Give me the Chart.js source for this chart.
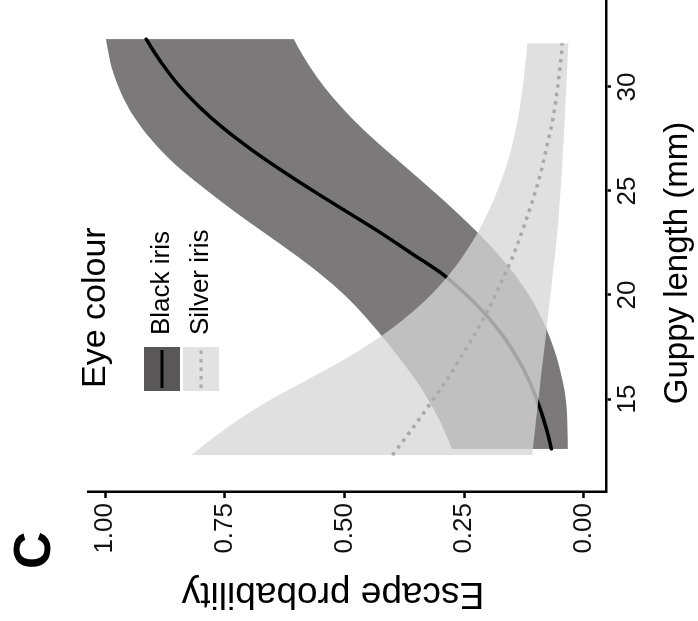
<!DOCTYPE html>
<html>
<head>
<meta charset="utf-8">
<script src="https://cdn.jsdelivr.net/npm/chart.js@4.4.1/dist/chart.umd.min.js"></script>
<style>
	html, body { margin: 0; padding: 0; background: #fff; overflow: hidden; }
	/* the figure is drawn upright, then turned a quarter turn anticlockwise */
	#wrap {
		position: absolute; left: 0; top: 0;
		width: 621px; height: 698px;
		transform-origin: 0 0;
		transform: translate(0, 621px) rotate(-90deg);
	}
</style>
</head>
<body>
<div id="wrap"><canvas id="chart" width="621" height="698"></canvas></div>
<script>
// Guppy length (mm) and model fits per eye colour
const blackLength = [12.6, 13, 14, 15, 16, 17, 18, 19, 20, 21, 22, 23, 24, 25, 26, 27, 28, 29, 30, 31, 32, 32.3];
const blackFit = [0.068, 0.072, 0.084, 0.099, 0.117, 0.140, 0.168, 0.203, 0.245, 0.295, 0.360, 0.425, 0.495, 0.565, 0.632, 0.695, 0.752, 0.801, 0.843, 0.877, 0.906, 0.914];
const blackUpper = [0.276, 0.283, 0.302, 0.326, 0.354, 0.386, 0.421, 0.458, 0.500, 0.550, 0.607, 0.668, 0.729, 0.786, 0.840, 0.885, 0.922, 0.951, 0.972, 0.987, 0.996, 0.998];
const blackLower = [0.034, 0.034, 0.035, 0.038, 0.046, 0.057, 0.072, 0.091, 0.115, 0.145, 0.181, 0.222, 0.267, 0.315, 0.365, 0.415, 0.463, 0.505, 0.542, 0.573, 0.599, 0.606];

const silverLength = [12.3, 13, 14, 15, 16, 17, 18, 19, 20, 21, 22, 23, 24, 25, 26, 27, 28, 29, 30, 31, 32, 32.1];
const silverFit = [0.400, 0.377, 0.345, 0.314, 0.284, 0.257, 0.231, 0.207, 0.185, 0.165, 0.146, 0.130, 0.115, 0.101, 0.089, 0.079, 0.069, 0.061, 0.055, 0.050, 0.046, 0.046];
const silverUpper = [0.820, 0.782, 0.722, 0.652, 0.572, 0.493, 0.425, 0.368, 0.320, 0.281, 0.249, 0.222, 0.200, 0.181, 0.165, 0.152, 0.142, 0.134, 0.128, 0.123, 0.119, 0.119];
const silverLower = [0.108, 0.105, 0.100, 0.095, 0.090, 0.085, 0.080, 0.075, 0.070, 0.065, 0.060, 0.056, 0.052, 0.049, 0.046, 0.044, 0.041, 0.039, 0.037, 0.035, 0.033, 0.033];

const lengthTicks = [15, 20, 25, 30];
const probTicks = [0, 0.25, 0.5, 0.75, 1];
const seriesNames = ["Black iris", "Silver iris"];
const xTitle = "Guppy length (mm)";
const yTitle = "Escape probability";

const FONT = '"Liberation Sans", Arial, Helvetica, sans-serif';
Chart.defaults.font.family = FONT;
Chart.defaults.color = "#000";

function toPoints(xs, ys) {
	return xs.map((x, i) => ({ x: x, y: ys[i] }));
}

function band(xs, ys, fillColor, order, fill) {
	return {
		data: toPoints(xs, ys),
		fill: fill,
		backgroundColor: fillColor,
		borderWidth: 0,
		pointRadius: 0,
		cubicInterpolationMode: "monotone",
		order: order,
	};
}

// axis titles, legend and panel letter, drawn in the upright frame
const decor = {
	id: "decor",
	afterDraw(chart) {
		const ctx = chart.ctx;
		ctx.save();
		ctx.fillStyle = "#000";
		ctx.textBaseline = "alphabetic";

		ctx.font = "bold 52px " + FONT;
		ctx.fillText("C", 52, 50);

		// axis titles
		ctx.textAlign = "center";
		ctx.font = "33px " + FONT;
		ctx.fillText(xTitle, 358, 687);
		ctx.save();
		ctx.translate(38, 333);
		ctx.rotate(-Math.PI / 2);
		ctx.font = "37px " + FONT;
		ctx.fillText(yTitle, 0, 0);
		ctx.restore();
		ctx.textAlign = "left";

		// legend
		ctx.font = "34px " + FONT;
		ctx.fillText("Eye colour", 233, 105);

		ctx.fillStyle = "#5a5758";
		ctx.fillRect(230, 144, 44, 36);
		ctx.strokeStyle = "#000";
		ctx.lineWidth = 3;
		ctx.beginPath();
		ctx.moveTo(233, 162);
		ctx.lineTo(271, 162);
		ctx.stroke();

		ctx.fillStyle = "#e2e2e2";
		ctx.fillRect(230, 183, 44, 36);
		ctx.strokeStyle = "#aaaaaa";
		ctx.setLineDash([3.5, 5]);
		ctx.beginPath();
		ctx.moveTo(233, 201);
		ctx.lineTo(271, 201);
		ctx.stroke();
		ctx.setLineDash([]);

		ctx.fillStyle = "#000";
		ctx.font = "26px " + FONT;
		ctx.textBaseline = "middle";
		ctx.fillText(seriesNames[0], 286, 162);
		ctx.fillText(seriesNames[1], 286, 201);
		ctx.restore();
	},
};

new Chart(document.getElementById("chart"), {
	type: "line",
	data: {
		datasets: [
			band(blackLength, blackUpper, "#7b797a", 5, "+1"),
			band(blackLength, blackLower, "#7b797a", 5, false),
			{
				label: seriesNames[0],
				data: toPoints(blackLength, blackFit),
				borderColor: "#000",
				borderWidth: 3.5,
				borderCapStyle: "round",
				pointRadius: 0,
				fill: false,
				cubicInterpolationMode: "monotone",
				order: 4,
			},
			band(silverLength, silverUpper, "rgba(214, 214, 214, 0.76)", 3, "+1"),
			band(silverLength, silverLower, "rgba(214, 214, 214, 0.76)", 3, false),
			{
				label: seriesNames[1],
				data: toPoints(silverLength, silverFit),
				borderColor: "#a9a9a9",
				borderWidth: 3.5,
				borderDash: [3.5, 5],
				pointRadius: 0,
				fill: false,
				cubicInterpolationMode: "monotone",
				order: 2,
			},
		],
	},
	options: {
		responsive: false,
		animation: false,
		layout: { padding: { top: 88, right: 0, left: 0, bottom: 0 } },
		plugins: {
			legend: { display: false },
			tooltip: { enabled: false },
		},
		scales: {
			x: {
				type: "linear",
				min: 10.53,
				max: 34.18,
				afterBuildTicks: (s) => { s.ticks = lengthTicks.map((v) => ({ value: v })); },
				afterFit: (s) => { s.height = 92; },
				grid: { drawOnChartArea: false, tickLength: 5, tickColor: "#000", tickWidth: 2.5 },
				border: { display: true, color: "#000", width: 2.5 },
				ticks: { font: { size: 26 }, padding: 1, maxRotation: 0, color: "#111" },
			},
			y: {
				type: "linear",
				min: -0.046,
				max: 1.0355,
				afterBuildTicks: (s) => { s.ticks = probTicks.map((v) => ({ value: v })); },
				afterFit: (s) => { s.width = 129; },
				grid: { drawOnChartArea: false, tickLength: 6, tickColor: "#000", tickWidth: 2.5 },
				border: { display: true, color: "#000", width: 2.5 },
				ticks: { font: { size: 26 }, padding: 5, color: "#111", callback: (v) => v.toFixed(2) },
			},
		},
	},
	plugins: [decor],
});
</script>
</body>
</html>
